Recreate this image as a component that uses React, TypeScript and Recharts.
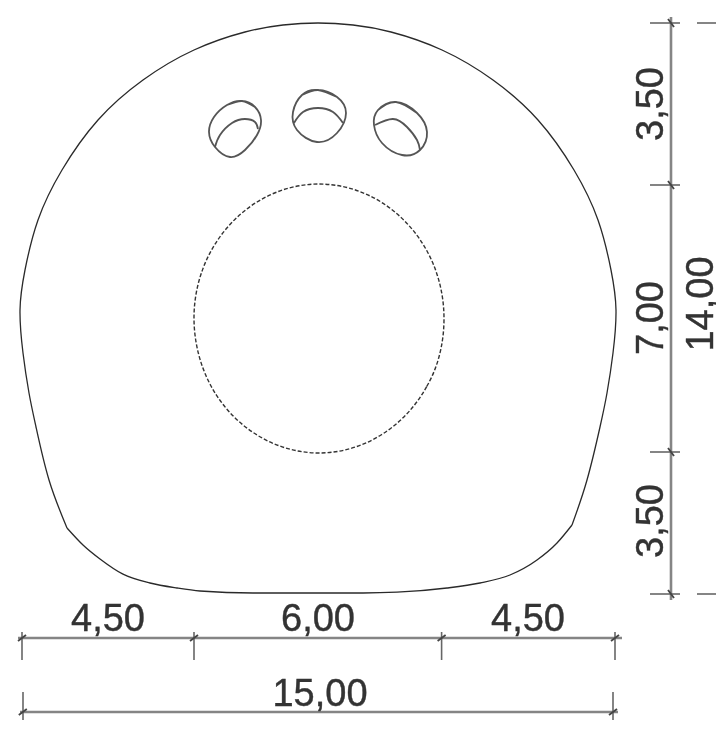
import React from "react";
import { ComposedChart, Line, Scatter, XAxis, YAxis } from "recharts";

type P = [number, number];

const sideAndTopArc: P[] = [[1.175,1.625],[0.725,2.825],[0.4,4.15],[0.225,5.0],[0.075,6.0],[0,7.075],[0.125,8.075],[0.45,9.325],[1.05,10.575],[1.95,11.825],[3.075,12.825],[4.35,13.575],[5.625,14.025],[6.575,14.2],[7.45,14.25],[8.325,14.2],[9.275,14.025],[10.55,13.575],[11.825,12.825],[12.95,11.825],[13.85,10.575],[14.45,9.325],[14.775,8.075],[14.9,7.075],[14.825,6.0],[14.675,5.0],[14.5,4.15],[14.175,2.825],[13.8,1.7]];
const bottomArc: P[] = [[1.175,1.625],[1.575,1.2],[2,0.85],[2.575,0.47],[3.25,0.25],[3.925,0.125],[4.5,0.05],[5.825,0],[7.75,0],[8.575,0],[9.425,0.02],[10.675,0.125],[11.5,0.25],[12.25,0.45],[12.925,0.825],[13.425,1.25],[13.8,1.7]];

const holeLeftOuter: P[] = [[5.875,12.15],[5.55,12.3],[5.175,12.2],[4.85,11.9],[4.725,11.525],[4.875,11.15],[5.25,10.9],[5.625,11.075],[5.925,11.45],[6.025,11.825],[5.875,12.15],[5.55,12.3],[5.175,12.2]];
const holeLeftInner: P[] = [[4.875,11.15],[5.0,11.45],[5.3,11.75],[5.625,11.85],[5.875,11.775],[5.95,11.6]];
const holeMidOuter: P[] = [[7.925,12.4],[7.45,12.575],[7.05,12.45],[6.825,12.025],[6.925,11.575],[7.425,11.275],[7.925,11.5],[8.15,12.0],[7.925,12.4],[7.45,12.575],[7.05,12.45]];
const holeMidInner: P[] = [[6.85,11.75],[7.075,12.025],[7.45,12.125],[7.825,12.025],[8.075,11.75]];
const holeRightOuter: P[] = [[9.925,12.0],[9.4,12.275],[8.95,12.075],[8.85,11.7],[9.05,11.25],[9.55,10.95],[10.0,11.075],[10.175,11.525],[9.925,12.0],[9.4,12.275],[8.95,12.075]];
const holeRightInner: P[] = [[8.875,11.7],[9.325,11.85],[9.675,11.65],[9.925,11.325],[10.0,11.075]];

const innerCircle: P[] = [[9.025,3.95],[10.175,5.175],[10.6,6.875],[10.175,8.55],[9.025,9.775],[7.475,10.225],[5.925,9.775],[4.775,8.55],[4.35,6.875],[4.775,5.175],[5.925,3.95],[7.475,3.5],[9.025,3.95],[10.175,5.175],[10.6,6.875],[10.175,8.55],[9.025,9.775]];

const dimMain: P[][] = [
  [[-0.05,-1.125],[15.05,-1.125]],
  [[0,-2.975],[14.95,-2.975]],
  [[16.275,14.4],[16.275,-0.175]],
];
const dimTicks: P[][] = [
  [[0.05,-0.975],[0.05,-1.675]],
  [[4.35,-0.975],[4.35,-1.675]],
  [[10.54,-0.975],[10.54,-1.675]],
  [[14.875,-0.975],[14.875,-1.675]],
  [[0.075,-2.475],[0.075,-3.175]],
  [[14.825,-2.475],[14.825,-3.175]],
  [[15.75,14.25],[16.5,14.25]],
  [[15.75,10.2],[16.5,10.2]],
  [[15.75,3.525],[16.5,3.525]],
  [[15.75,-0.025],[16.5,-0.025]],
  [[16.925,14.25],[17.4,14.25]],
  [[16.925,-0.025],[17.4,-0.025]],
];
const dimSlashes: P[][] = [
  [[-0.05,-1.2],[0.15,-1.05]],
  [[4.25,-1.2],[4.45,-1.05]],
  [[10.44,-1.2],[10.64,-1.05]],
  [[14.775,-1.2],[14.975,-1.05]],
  [[-0.03,-3.05],[0.17,-2.9]],
  [[14.725,-3.05],[14.925,-2.9]],
  [[16.2,14.35],[16.35,14.15]],
  [[16.2,10.3],[16.35,10.1]],
  [[16.2,3.625],[16.35,3.425]],
  [[16.2,0.075],[16.35,-0.125]],
];

const labelTexts = ["4,50", "6,00", "4,50", "15,00", "3,50", "7,00", "3,50", "14,00"];
const labelX = [2.2, 7.45, 12.7, 7.5, 15.75, 15.75, 15.75, 17];
const labelY = [-0.625, -0.625, -0.625, -2.5, 12.225, 6.875, 1.8, 7.225];
const labelAngle = [0, 0, 0, 0, -90, -90, -90, -90];

const labelData = labelTexts.map((text, i) => ({ x: labelX[i], y: labelY[i], text, angle: labelAngle[i] }));
const toRows = (pts: P[]) => pts.map(([x, y]) => ({ x, y }));

const outlineCol = "#2a2a2a";
const dimCol = "#858585";
const circleDash = "0 67 " + Array(136).fill("4 2").join(" ") + " 0 400";

const holes: P[][] = [holeLeftOuter, holeLeftInner, holeMidOuter, holeMidInner, holeRightOuter, holeRightInner];

const LabelShape = (p: any) => (
  <text
    x={p.cx}
    y={p.cy}
    fill="#333"
    stroke="#333"
    strokeWidth={0.4}
    fontFamily="'Liberation Sans', Arial, sans-serif"
    fontSize={38}
    textAnchor="middle"
    dominantBaseline="central"
    transform={p.payload.angle ? `rotate(${p.payload.angle} ${p.cx} ${p.cy})` : undefined}
  >
    {p.payload.text}
  </text>
);

export default function App() {
  return (
    <div style={{ position: "absolute", left: 0, top: 0, width: 716, height: 729, background: "#fff", filter: "blur(0.6px)" }}>
      <ComposedChart width={716} height={729} margin={{ top: 0, right: 0, bottom: 0, left: 0 }}>
        <XAxis type="number" dataKey="x" domain={[-0.5, 17.4]} hide allowDataOverflow />
        <YAxis type="number" dataKey="y" domain={[-3.4, 14.825]} hide allowDataOverflow />
        <Line data={toRows(sideAndTopArc)} dataKey="y" type="natural" stroke={outlineCol} strokeWidth={1.3} dot={false} activeDot={false} isAnimationActive={false} />
        <Line data={toRows(bottomArc)} dataKey="y" type="monotone" stroke={outlineCol} strokeWidth={1.3} dot={false} activeDot={false} isAnimationActive={false} />
        {holes.map((c, i) => (
          <Line key={`h${i}`} data={toRows(c)} dataKey="y" type="natural" stroke="#555" strokeWidth={1.8} dot={false} activeDot={false} isAnimationActive={false} />
        ))}
        <Line data={toRows(innerCircle)} dataKey="y" type="natural" stroke="#333" strokeWidth={1.4} strokeDasharray={circleDash} dot={false} activeDot={false} isAnimationActive={false} />
        {dimMain.map((c, i) => (
          <Line key={`m${i}`} data={toRows(c)} dataKey="y" type="linear" stroke={dimCol} strokeWidth={2.6} dot={false} activeDot={false} isAnimationActive={false} />
        ))}
        {dimTicks.map((c, i) => (
          <Line key={`t${i}`} data={toRows(c)} dataKey="y" type="linear" stroke="#666" strokeWidth={1.6} dot={false} activeDot={false} isAnimationActive={false} />
        ))}
        {dimSlashes.map((c, i) => (
          <Line key={`s${i}`} data={toRows(c)} dataKey="y" type="linear" stroke="#444" strokeWidth={1.8} dot={false} activeDot={false} isAnimationActive={false} />
        ))}
        <Scatter data={labelData} dataKey="y" shape={LabelShape} isAnimationActive={false} />
      </ComposedChart>
    </div>
  );
}
